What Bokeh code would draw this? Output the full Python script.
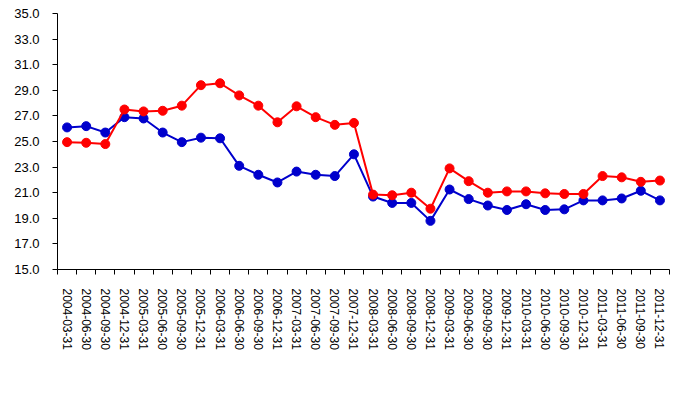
import math
from bokeh.plotting import figure
from bokeh.models import FixedTicker, Range1d, Legend, LegendItem, NumeralTickFormatter
from bokeh.embed import file_html
from bokeh.resources import INLINE

dates = ["2004-03-31", "2004-06-30", "2004-09-30", "2004-12-31",
         "2005-03-31", "2005-06-30", "2005-09-30", "2005-12-31",
         "2006-03-31", "2006-06-30", "2006-09-30", "2006-12-31",
         "2007-03-31", "2007-06-30", "2007-09-30", "2007-12-31",
         "2008-03-31", "2008-06-30", "2008-09-30", "2008-12-31",
         "2009-03-31", "2009-06-30", "2009-09-30", "2009-12-31",
         "2010-03-31", "2010-06-30", "2010-09-30", "2010-12-31",
         "2011-03-31", "2011-06-30", "2011-09-30", "2011-12-31"]

bull = [26.1, 26.2, 25.7, 26.9, 26.8, 25.7, 24.95, 25.3,
        25.25, 23.1, 22.4, 21.8, 22.65, 22.4, 22.3, 24.0,
        20.7, 20.2, 20.2, 18.8, 21.25, 20.5, 20.0, 19.65,
        20.1, 19.65, 19.7, 20.4, 20.4, 20.55, 21.15, 20.4]

all_a = [24.95, 24.9, 24.8, 27.5, 27.35, 27.4, 27.8, 29.4,
         29.55, 28.6, 27.8, 26.5, 27.75, 26.9, 26.3, 26.45,
         20.85, 20.8, 21.0, 19.75, 22.9, 21.9, 21.0, 21.1,
         21.1, 20.95, 20.9, 20.9, 22.3, 22.2, 21.85, 21.95]

y_ticks = [15, 17, 19, 21, 23, 25, 27, 29, 31, 33, 35]

xs = [i + 0.5 for i in range(len(dates))]

p = figure(frame_width=612, frame_height=256, output_backend="svg", toolbar_location=None,
           x_range=Range1d(0, len(dates)), y_range=Range1d(15, 35),
           min_border_left=57, min_border_top=13, min_border_right=8,
           min_border_bottom=124)
p.outline_line_color = None
p.xgrid.visible = False
p.ygrid.visible = False
p.background_fill_color = "white"

label_font = "Liberation Sans"

# x axis
p.xaxis.ticker = FixedTicker(ticks=xs, minor_ticks=list(range(len(dates) + 1)))
p.xaxis.major_label_overrides = {x: d for x, d in zip(xs, dates)}
p.xaxis.major_label_orientation = -math.pi / 2
p.xaxis.major_tick_out = 0
p.xaxis.major_tick_in = 0
p.xaxis.minor_tick_out = 5
p.xaxis.minor_tick_in = 0
p.xaxis.major_label_text_font = label_font
p.xaxis.major_label_text_font_size = "12px"
p.xaxis.major_label_text_color = "black"
p.xaxis.major_label_standoff = 14
p.xaxis.axis_line_color = "black"
p.xaxis.minor_tick_line_color = "black"

# y axis
p.yaxis.ticker = FixedTicker(ticks=y_ticks, minor_ticks=[])
p.yaxis.formatter = NumeralTickFormatter(format="0.0")
p.yaxis.major_tick_out = 5
p.yaxis.major_tick_in = 0
p.yaxis.minor_tick_out = 0
p.yaxis.major_label_text_font = label_font
p.yaxis.major_label_text_font_size = "13px"
p.yaxis.major_label_text_color = "black"
p.yaxis.major_label_standoff = 13
p.yaxis.axis_line_color = "black"
p.yaxis.major_tick_line_color = "black"

blue = "#0000CC"
red = "#FF0000"

l1 = p.line(xs, bull, line_color=blue, line_width=2)
s1 = p.scatter(xs, bull, size=9, fill_color=blue, line_color=blue)
l2 = p.line(xs, all_a, line_color=red, line_width=2)
s2 = p.scatter(xs, all_a, size=9, fill_color=red, line_color=red)

legend = Legend(items=[LegendItem(label="牛股", renderers=[l1, s1]),
                       LegendItem(label="全部A股", renderers=[l2, s2])],
                orientation="horizontal", location=(213, -117),
                label_text_font="Noto Sans CJK SC", label_text_font_size="13px",
                border_line_color=None, background_fill_alpha=0,
                glyph_width=27, glyph_height=16, label_standoff=3,
                spacing=10, margin=0, padding=0)
p.add_layout(legend, "center")

open("out.html", "w").write(file_html(p, INLINE))
